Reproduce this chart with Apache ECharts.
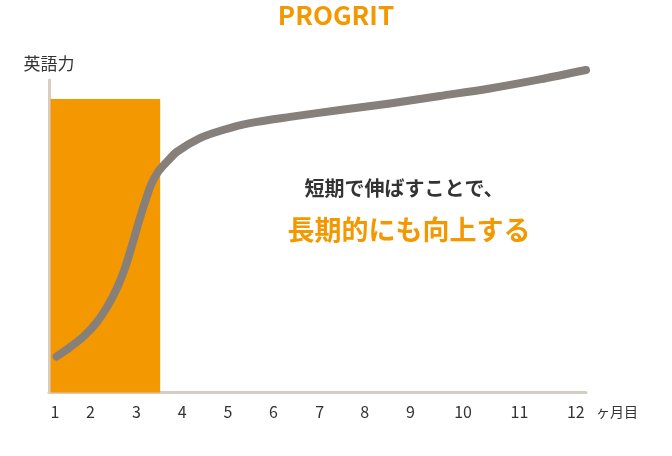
<!DOCTYPE html>
<html>
<head>
<meta charset="utf-8">
<script src="https://cdn.jsdelivr.net/npm/echarts@6/dist/echarts.min.js"></script>
<style>html,body{margin:0;padding:0;background:#fff;}#c{width:672px;height:456px;}</style>
</head>
<body>
<div id="c"></div>
<script>
// x: progress along the time axis (0-100), y: English ability (0-100)
const tickPositions = [1.1, 7.7, 16.3, 24.8, 33.3, 41.8, 50.4, 58.8, 67.3, 77.1, 87.6, 98.1];
const tickLabels = ['1', '2', '3', '4', '5', '6', '7', '8', '9', '10', '11', '12'];
const curveX = [1.4, 3.9, 6.4, 8.9, 11.0, 12.6, 14.0, 15.1, 16.0, 17.0, 18.1, 19.1, 20.4, 22.0, 23.8, 28.1, 32.4, 37.4, 44.9, 54.2, 63.5, 72.8, 82.1, 91.4, 100.0];
const curveY = [11.5, 14.5, 17.9, 22.5, 27.9, 33.2, 39.1, 45.0, 50.3, 56.2, 62.1, 66.9, 70.8, 73.9, 77.0, 81.4, 84.0, 86.2, 88.2, 90.4, 92.5, 94.9, 97.3, 100.2, 103.2];
const boostStart = 0.3;
const boostEnd = 20.7;
const boostLevel = 93.9;
const titleText = 'PROGRIT';
const yName = '英語力';
const xName = 'ヶ月目';
const message1 = '短期で伸ばすことで、';
const message2 = '長期的にも向上する';

const ORANGE = '#F39800';
const GRAY = '#877F79';
const AXIS = '#D8CCC0';
const FONT = '"Noto Sans CJK JP", "Noto Sans", sans-serif';

const chart = echarts.init(document.getElementById('c'), null, {renderer: 'canvas'});
chart.setOption({
  backgroundColor: '#fff',
  animation: false,
  title: {
    text: titleText, left: 'center', top: -3,
    textStyle: {color: ORANGE, fontSize: 26, fontWeight: 'bold', fontFamily: FONT}
  },
  grid: {left: 49, right: 86, top: 80, bottom: 63.5},
  xAxis: {
    type: 'value', min: 0, max: 100,
    name: xName, nameLocation: 'end', nameGap: 10,
    nameTextStyle: {color: '#333', fontSize: 14, fontFamily: FONT, verticalAlign: 'top', padding: [12, 0, 0, 0]},
    axisLine: {show: true, lineStyle: {color: AXIS, width: 3}},
    axisTick: {show: false},
    splitLine: {show: false},
    axisLabel: {
      customValues: tickPositions,
      margin: 11,
      color: '#333', fontSize: 16, fontFamily: FONT,
      formatter: function (v) { return tickLabels[tickPositions.indexOf(v)]; }
    }
  },
  yAxis: {
    type: 'value', min: 0, max: 100,
    name: yName, nameLocation: 'end', nameGap: 8,
    nameTextStyle: {color: '#333', fontSize: 17, fontFamily: FONT, align: 'center'},
    axisLine: {show: true, lineStyle: {color: AXIS, width: 3}},
    axisTick: {show: false},
    axisLabel: {show: false},
    splitLine: {show: false}
  },
  series: [{
    type: 'line',
    data: curveX.map((x, i) => [x, curveY[i]]),
    smooth: 0.3,
    showSymbol: false,
    clip: false,
    lineStyle: {color: GRAY, width: 8, cap: 'round', join: 'round'},
    z: 5,
    markArea: {
      silent: true,
      itemStyle: {color: ORANGE, opacity: 1},
      data: [[{coord: [boostStart, 0]}, {coord: [boostEnd, boostLevel]}]]
    }
  }],
  graphic: [
    {type: 'text', x: 404, y: 188, style: {text: message1, fill: '#333', font: 'bold 20px ' + FONT, align: 'center', verticalAlign: 'middle'}},
    {type: 'text', x: 409, y: 230, style: {text: message2, fill: ORANGE, font: 'bold 27px ' + FONT, align: 'center', verticalAlign: 'middle'}}
  ]
});
</script>
</body>
</html>
